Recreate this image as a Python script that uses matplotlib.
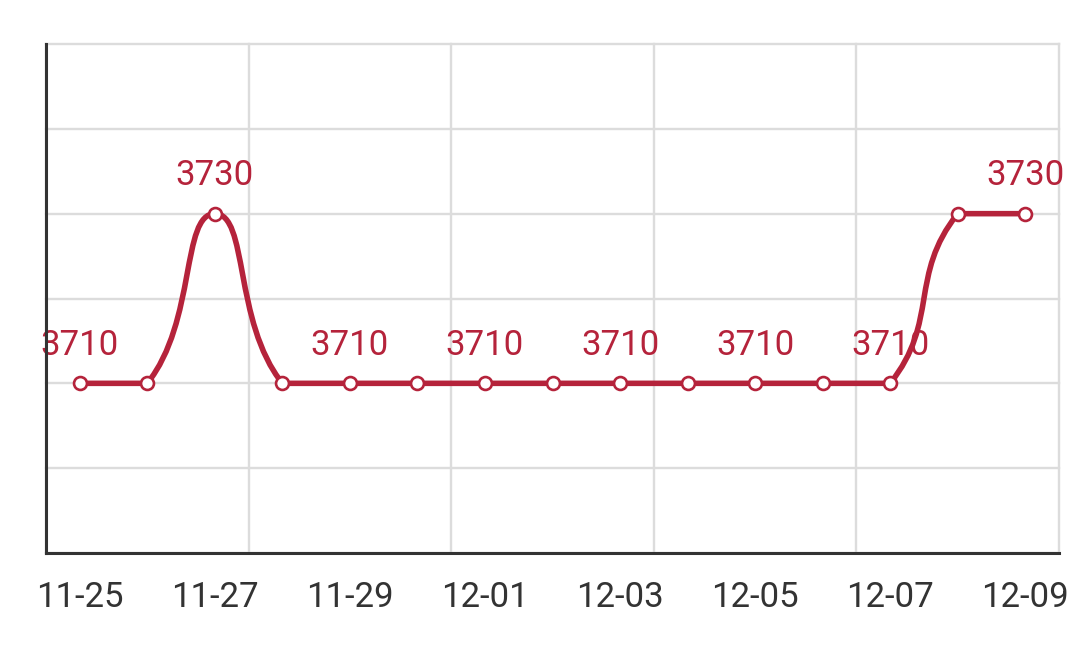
import numpy as np
import matplotlib
matplotlib.use("Agg")
import matplotlib.pyplot as plt
from matplotlib.path import Path
from matplotlib.patches import PathPatch

plt.rcParams['font.family'] = ['Roboto', 'DejaVu Sans']

dates = ["11-25", "11-26", "11-27", "11-28", "11-29", "11-30", "12-01", "12-02",
         "12-03", "12-04", "12-05", "12-06", "12-07", "12-08", "12-09"]
values = [3710, 3710, 3730, 3710, 3710, 3710, 3710, 3710,
          3710, 3710, 3710, 3710, 3710, 3730, 3730]
y_min, y_max, y_step = 3690, 3750, 10

RED = "#b5233b"
GRID = "#dcdcdc"
AXIS = "#333333"

W, H, DPI = 1079, 662, 100
fig = plt.figure(figsize=(W / DPI, H / DPI), dpi=DPI)
left, right, top, bottom = 46, 1059, 44, 553
ax = fig.add_axes([left / W, 1 - bottom / H, (right - left) / W, (bottom - top) / H])

n = len(dates)
x = np.arange(n, dtype=float)
y = np.array(values, dtype=float)
ax.set_xlim(-0.5, n - 0.5)
ax.set_ylim(y_min, y_max)

# grid
for gx in np.arange(-0.5, n, 3):
    ax.axvline(gx, color=GRID, lw=1.7, zorder=0, clip_on=False)
for gy in np.arange(y_min, y_max + 1, y_step):
    ax.axhline(gy, color=GRID, lw=1.7, zorder=0, clip_on=False)

# echarts-style smooth line (smoothBezier with bbox constraint)
sx = (right - left) / n
sy = (bottom - top) / (y_max - y_min)
P = np.column_stack([x * sx, y * sy])
mn, mx = P.min(0), P.max(0)
smooth = 0.5
verts = [P[0]]
codes = [Path.MOVETO]
cp0 = P[0].copy()
for i in range(1, n):
    p = P[i]
    prev = P[i - 1]
    if i + 1 < n:
        nxt = P[i + 1]
        v = nxt - prev
        lp = np.linalg.norm(p - prev)
        ln = np.linalg.norm(nxt - p)
        r = ln / (ln + lp)
        cp1 = p - v * smooth * (1 - r)
    else:
        cp1 = p.copy()
        v = np.zeros(2)
        r = 0.5
    verts += [np.clip(cp0, mn, mx), np.clip(cp1, mn, mx), p]
    codes += [Path.CURVE4] * 3
    cp0 = p + v * smooth * r
verts = np.array(verts) / np.array([sx, sy])
ax.add_patch(PathPatch(Path(verts, codes), facecolor="none", edgecolor=RED,
                       lw=4.0, zorder=3, capstyle="round", joinstyle="round"))

ax.plot(x, y, linestyle="none", marker="o", markersize=9.3, markerfacecolor="white",
        markeredgecolor=RED, markeredgewidth=1.9, zorder=4, clip_on=False)

# data labels
for i in range(0, n, 2):
    ax.annotate(str(values[i]), (x[i], y[i]), xytext=(0, 27.5), textcoords="offset points",
                ha="center", va="center", fontsize=25, color=RED, zorder=5,
                annotation_clip=False)

ax.set_xticks(x[::2])
ax.set_xticklabels(dates[::2])
ax.set_yticks([])
ax.tick_params(axis="x", length=0, pad=20, labelsize=25, labelcolor=AXIS)
for s in ["top", "right"]:
    ax.spines[s].set_visible(False)
for s in ["left", "bottom"]:
    ax.spines[s].set_color(AXIS)
    ax.spines[s].set_linewidth(2.2)
    ax.spines[s].set_zorder(6)
ax.set_facecolor("white")

fig.savefig("out.png", dpi=DPI, facecolor="white")
